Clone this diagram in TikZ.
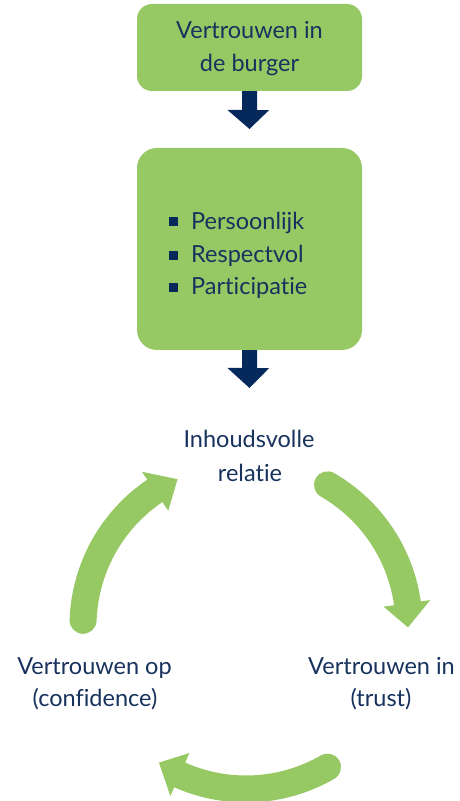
\documentclass[tikz,border=0pt]{standalone}
\usepackage{fontspec}
\setmainfont{Lato}[Ligatures={NoCommon}]
\usetikzlibrary{calc}
\definecolor{leaf}{RGB}{150,201,100}
\definecolor{ink}{RGB}{24,50,94}
\definecolor{navy}{RGB}{6,41,92}
\begin{document}
\begin{tikzpicture}[x=1pt,y=1pt,
  greenbox/.style={fill=leaf,draw=none,minimum width=225pt,inner sep=0pt},
  label/.style={text=ink,font=\fontsize{23.5}{23.5}\selectfont,inner sep=0pt,anchor=base},
  bulletsq/.style={fill=navy,minimum size=9pt,inner sep=0pt},
  downarrow/.style={fill=navy,draw=none}]
\useasboundingbox (0,0) rectangle (459,801);

% top box
\node[greenbox,minimum height=87pt,rounded corners=15pt] (trustbox) at (249.5,753.5) {};
\node[label] (t1) at (249.5,762) {Vertrouwen in};
\node[label] (t2) at (249.5,729) {de burger};

% second box with bullet list
\node[greenbox,minimum height=202pt,rounded corners=20pt] (listbox) at (249.5,552) {};
\node[bulletsq] (b1) at (173,579) {};
\node[bulletsq] (b2) at (173,545) {};
\node[bulletsq] (b3) at (173,513) {};
\node[label,anchor=base west] (l1) at (191,571) {Persoonlijk};
\node[label,anchor=base west] (l2) at (191,538) {Respectvol};
\node[label,anchor=base west] (l3) at (191,506) {Participatie};

% block arrows between the boxes
\fill[downarrow] (trustbox.south) ++(-7.5,0) -- ++(15,0) -- ++(0,-19) -- ++(12,0)
  -- (249.5,672) coordinate (tip1) -- (227.5,691) -- ++(14.5,0) -- cycle;
\fill[downarrow] (listbox.south) ++(-7.5,0) -- ++(15,0) -- ++(0,-18) -- ++(12,0)
  -- (249.5,413) coordinate (tip2) -- (227.5,433) -- ++(14.5,0) -- cycle;

% cycle labels
\node[label] (rel1) at (249,353) {Inhoudsvolle};
\node[label] (rel2) at (250,319) {relatie};
\node[label] (op1) at (94.5,126) {Vertrouwen op};
\node[label] (op2) at (95,94) {(confidence)};
\node[label] (in1) at (381.5,126) {Vertrouwen in};
\node[label] (in2) at (381,94) {(trust)};

% curved arrows around the cycle centre
\coordinate (C) at (246,175);
\newcommand{\cyclearrow}[3]{%
  \fill[leaf] ($(C)+(#1:176.5)$) arc[start angle=#1,end angle=#2,radius=176.5]
    -- ($(C)+(#2:186)$) -- ($(C)+(#3:162)$) -- ($(C)+(#2:139)$)
    -- ($(C)+(#2:149.5)$) arc[start angle=#2,end angle=#1,radius=149.5]
    arc[start angle=#1+180,end angle=#1,radius=13.5] -- cycle;}
\cyclearrow{60}{8}{-0.5}
\cyclearrow{-60}{-114}{-122.5}
\cyclearrow{178}{124}{115}
\end{tikzpicture}
\end{document}
